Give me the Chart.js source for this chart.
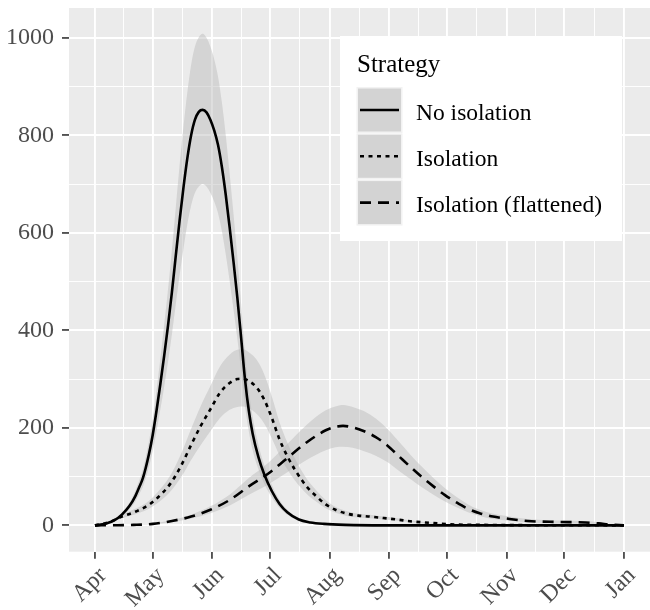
<!DOCTYPE html>
<html>
<head>
<meta charset="utf-8">
<script src="https://cdn.jsdelivr.net/npm/chart.js@4.4.1/dist/chart.umd.min.js"></script>
<style>
  html, body { margin: 0; padding: 0; background: #fff; overflow: hidden; }
  #wrap { width: 650px; height: 610px; }
</style>
</head>
<body>
<div id="wrap"><canvas id="chart"></canvas></div>
<script>
// x axis: days since 1 April
const monthDays = [0, 30, 61, 91, 122, 153, 183, 214, 244, 275];
const monthLabels = ['Apr', 'May', 'Jun', 'Jul', 'Aug', 'Sep', 'Oct', 'Nov', 'Dec', 'Jan'];
const yMajor = [0, 200, 400, 600, 800, 1000];
const yMinor = [100, 300, 500, 700, 900];

const legendTitle = 'Strategy';
const strategyNames = ['No isolation', 'Isolation', 'Isolation (flattened)'];

// No isolation
const noIsoDays = [0, 3, 6, 10, 14, 18, 21, 23, 25, 28, 30, 32, 34, 36, 38, 40, 42, 44, 46, 48, 50, 52, 54, 56, 58, 60, 62, 64, 66, 68, 70, 72, 74, 76, 78, 80, 82, 85, 88, 92, 96, 100, 106, 112, 119, 130, 150, 200, 275];
const noIsoMean = [0, 1.5, 4, 10, 22, 40, 60, 78, 98, 145, 185, 235, 290, 348, 410, 478, 552, 625, 692, 752, 800, 832, 848, 852, 847, 832, 810, 780, 735, 678, 612, 542, 468, 385, 300, 235, 188, 140, 105, 70, 44, 27, 12, 6, 3, 1, 0, 0, 0];
const noIsoLow = [0, 1.2, 3.3, 8.2, 18, 32.8, 49, 64, 80, 119, 152, 193, 238, 285, 336, 392, 453, 513, 567, 617, 656, 682, 695, 700, 695, 682, 664, 640, 603, 556, 502, 444, 384, 316, 246, 193, 154, 115, 86, 57, 36, 22, 10, 5, 2.5, 0.8, 0, 0, 0];
const noIsoHigh = [0, 1.8, 4.7, 11.8, 26, 47, 71, 92, 116, 171, 218, 277, 342, 411, 484, 564, 651, 738, 817, 887, 944, 982, 1001, 1008, 1000, 982, 956, 920, 867, 800, 722, 640, 552, 454, 354, 277, 222, 165, 124, 83, 52, 32, 14, 7, 3.5, 1.2, 0, 0, 0];

// Isolation
const isoDays = [0, 7, 14, 21, 28, 35, 40, 45, 50, 55, 60, 65, 70, 74, 77, 80, 84, 88, 92, 96, 100, 104, 110, 115, 120, 125, 131, 137, 143, 150, 157, 165, 175, 185, 200, 275];
const isoMean = [0, 6, 18, 28, 42, 66, 90, 124, 165, 204, 238, 272, 292, 300, 301, 296, 283, 258, 220, 176, 142, 114, 80, 60, 43, 32, 24, 20, 18, 15, 12, 8, 5, 2, 1, 0];
const isoLow = [0, 4.9, 14.6, 22.7, 34, 53.5, 73, 100, 134, 165, 193, 220, 237, 243, 244, 240, 229, 209, 178, 143, 115, 92, 65, 49, 35, 26, 19.4, 16.2, 14.6, 12.2, 9.7, 6.5, 4, 1.6, 0.8, 0];
const isoHigh = [0, 7, 21.6, 34, 50, 79, 108, 149, 198, 245, 286, 326, 350, 360, 361, 355, 340, 310, 264, 211, 170, 137, 96, 72, 52, 38, 29, 24, 22, 18, 14.4, 9.6, 6, 2.4, 1.2, 0];

// Isolation (flattened)
const flatDays = [0, 10, 20, 30, 40, 50, 60, 70, 80, 90, 100, 110, 120, 125, 129, 134, 140, 146, 152, 158, 164, 170, 176, 182, 188, 194, 200, 207, 214, 225, 240, 255, 262, 268, 275];
const flatMean = [0, 0.3, 1, 3, 9, 18, 32, 52, 80, 106, 138, 170, 195, 202, 204, 201, 193, 181, 164, 142, 120, 99, 80, 62, 47, 34, 25, 18, 14, 9, 7, 6, 4, 1.5, 0];
const flatLow = [0, 0.2, 0.8, 2.4, 7, 14, 25, 41, 63, 84, 109, 134, 154, 160, 161, 159, 152, 143, 130, 112, 95, 78, 63, 49, 37, 27, 19, 13, 10, 6, 4, 3.5, 2.5, 1, 0];
const flatHigh = [0, 0.4, 1.2, 3.6, 11, 22, 39, 63, 97, 128, 167, 206, 236, 244, 247, 243, 234, 219, 198, 172, 145, 120, 97, 76, 58, 43, 32, 24, 19, 13, 10, 9, 6, 2, 0];

const font = "'Liberation Serif', 'Times New Roman', serif";
const bandColor = 'rgba(180, 180, 180, 0.43)';
const dashes = [[], [4, 4.5], [11, 7]];

function pts(days, vals) {
  return days.map((d, i) => ({ x: d, y: vals[i] }));
}

const xMinor = monthDays.slice(1).map((d, i) => (d + monthDays[i]) / 2);

const series = [
  [noIsoDays, noIsoMean, noIsoLow, noIsoHigh],
  [isoDays, isoMean, isoLow, isoHigh],
  [flatDays, flatMean, flatLow, flatHigh]
];

const datasets = [];
series.forEach(([days, mean, low, high]) => {
  datasets.push({
    data: pts(days, low), borderWidth: 0, pointRadius: 0, fill: false,
    cubicInterpolationMode: 'monotone', order: 2
  });
  datasets.push({
    data: pts(days, high), borderWidth: 0, pointRadius: 0,
    fill: '-1', backgroundColor: bandColor,
    cubicInterpolationMode: 'monotone', order: 2
  });
});
series.forEach(([days, mean], i) => {
  datasets.push({
    label: strategyNames[i],
    data: pts(days, mean), borderColor: '#000', borderWidth: 2.6,
    borderDash: dashes[i], pointRadius: 0, fill: false,
    cubicInterpolationMode: 'monotone', order: 1
  });
});

const panelBg = {
  id: 'panelBg',
  beforeDraw(chart) {
    const { ctx, chartArea: a } = chart;
    ctx.save();
    ctx.fillStyle = '#fff';
    ctx.fillRect(0, 0, chart.width, chart.height);
    ctx.fillStyle = '#EBEBEB';
    ctx.fillRect(a.left, a.top, a.right - a.left, a.bottom - a.top);
    ctx.restore();
  }
};

const ggLegend = {
  id: 'ggLegend',
  afterDraw(chart) {
    const ctx = chart.ctx;
    ctx.save();
    ctx.fillStyle = '#fff';
    ctx.fillRect(340, 36, 282, 205);
    ctx.fillStyle = '#000';
    ctx.font = '25px ' + font;
    ctx.textBaseline = 'alphabetic';
    ctx.fillText(legendTitle, 357, 72);
    strategyNames.forEach((name, i) => {
      const top = 88.5 + i * 46.3;
      ctx.fillStyle = '#F2F2F2';
      ctx.fillRect(356.5, top - 1.5, 46, 46);
      ctx.fillStyle = '#D3D3D3';
      ctx.fillRect(358, top, 43, 43);
      const cy = top + 21.5;
      ctx.strokeStyle = '#000';
      ctx.lineWidth = 2.6;
      ctx.setLineDash(dashes[i]);
      ctx.beginPath();
      ctx.moveTo(360, cy);
      ctx.lineTo(399, cy);
      ctx.stroke();
      ctx.setLineDash([]);
      ctx.fillStyle = '#000';
      ctx.font = '23.5px ' + font;
      ctx.fillText(name, 416, cy + 9.5);
    });
    ctx.restore();
  }
};

new Chart(document.getElementById('chart'), {
  type: 'line',
  data: { datasets },
  options: {
    responsive: true,
    maintainAspectRatio: false,
    animation: false,
    layout: { padding: { top: 8, left: 0, right: 0, bottom: 0 } },
    plugins: {
      legend: { display: false },
      tooltip: { enabled: false },
      filler: { propagate: false }
    },
    scales: {
      x: {
        type: 'linear',
        min: -13.5,
        max: 288.6,
        afterBuildTicks: axis => {
          axis.ticks = monthDays.concat(xMinor).sort((a, b) => a - b).map(v => ({ value: v }));
        },
        afterFit: axis => {
          axis.height = 58.3;
          axis.paddingLeft = 0;
          axis.paddingRight = 0;
        },
        border: { display: false },
        grid: {
          color: '#fff',
          lineWidth: c => monthDays.includes(c.tick.value) ? 1.9 : 0.95,
          tickColor: c => monthDays.includes(c.tick.value) ? '#333' : 'rgba(0,0,0,0)',
          tickWidth: 1.6,
          tickLength: 7
        },
        ticks: {
          autoSkip: false,
          minRotation: 45,
          maxRotation: 45,
          padding: 3,
          labelOffset: 8,
          color: '#4D4D4D',
          font: { family: font, size: 24 },
          callback: v => {
            const i = monthDays.indexOf(v);
            return i >= 0 ? monthLabels[i] : '';
          }
        }
      },
      y: {
        type: 'linear',
        min: -54,
        max: 1061,
        afterBuildTicks: axis => {
          axis.ticks = yMajor.concat(yMinor).sort((a, b) => a - b).map(v => ({ value: v }));
        },
        afterFit: axis => {
          axis.width = 69;
          axis.paddingTop = 0;
          axis.paddingBottom = 0;
        },
        border: { display: false },
        grid: {
          color: '#fff',
          lineWidth: c => yMajor.includes(c.tick.value) ? 1.9 : 0.95,
          tickColor: c => yMajor.includes(c.tick.value) ? '#333' : 'rgba(0,0,0,0)',
          tickWidth: 1.6,
          tickLength: 7
        },
        ticks: {
          padding: 8,
          color: '#4D4D4D',
          font: { family: font, size: 24 },
          callback: v => yMajor.includes(v) ? String(v) : ''
        }
      }
    }
  },
  plugins: [panelBg, ggLegend]
});
</script>
</body>
</html>
